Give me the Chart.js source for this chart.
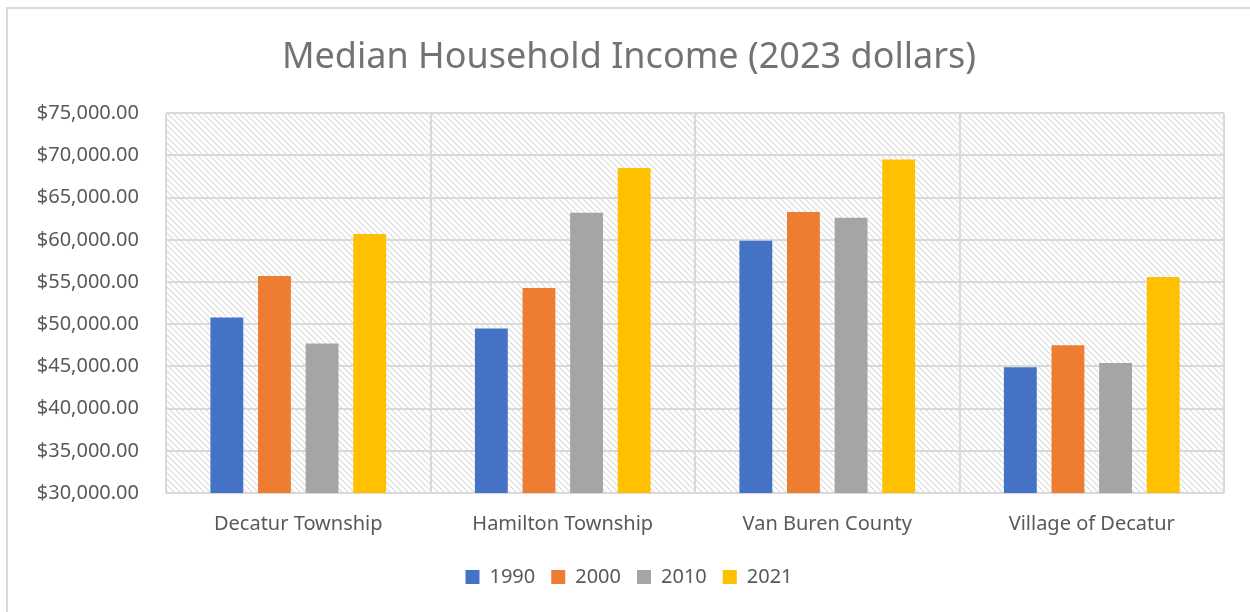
<!DOCTYPE html>
<html>
<head>
<meta charset="utf-8">
<script src="https://cdn.jsdelivr.net/npm/chart.js@4"></script>
<style>
    html, body { margin: 0; padding: 0; background: #fff; overflow: hidden; }
    #wrap { position: relative; width: 1250px; height: 612px; }
    #frame { position: absolute; left: 6px; top: 7px; width: 1300px; height: 700px; border: 2px solid #d9d9d9; box-sizing: border-box; }
</style>
</head>
<body>
<div id="wrap">
    <div id="frame"></div>
    <canvas id="incomeChart" width="1250" height="612"></canvas>
</div>
<script>
// Median household income by place and year (2023 dollars)

const places = ['Decatur Township', 'Hamilton Township', 'Van Buren County', 'Village of Decatur'];
const years = ['1990', '2000', '2010', '2021'];

const income1990 = [50800, 49500, 59900, 44900];
const income2000 = [55700, 54300, 63300, 47500];
const income2010 = [47700, 63200, 62600, 45400];
const income2021 = [60700, 68500, 69500, 55600];

const seriesColors = ['#4472C4', '#ED7D31', '#A5A5A5', '#FFC000'];

const textColor = '#595959';
const fontFamily = '"Noto Sans", "DejaVu Sans", sans-serif';

// diagonal hatch used by the plot area background
function makeHatch() {
    const tile = document.createElement('canvas');
    tile.width = 6;
    tile.height = 6;
    const t = tile.getContext('2d');
    t.fillStyle = '#ffffff';
    t.fillRect(0, 0, 6, 6);
    t.strokeStyle = '#dcdcdc';
    t.lineWidth = 1.2;
    t.beginPath();
    t.moveTo(-1, -1); t.lineTo(7, 7);
    t.moveTo(-4, 2); t.lineTo(1, 7);
    t.moveTo(5, -1); t.lineTo(7, 1);
    t.stroke();
    return t.createPattern(tile, 'repeat');
}

const hatchBackground = {
    id: 'hatchBackground',
    beforeDraw(chart) {
        const { ctx, chartArea } = chart;
        ctx.save();
        ctx.fillStyle = makeHatch();
        ctx.fillRect(chartArea.left, chartArea.top, chartArea.right - chartArea.left, chartArea.bottom - chartArea.top);
        ctx.restore();
    }
};

const allSeries = [income1990, income2000, income2010, income2021];

const ctx = document.getElementById('incomeChart').getContext('2d');

const incomeChart = new Chart(ctx, {
    type: 'bar',
    data: {
        labels: places,
        datasets: years.map((year, i) => ({
            label: year,
            data: allSeries[i],
            backgroundColor: seriesColors[i],
            borderWidth: 0,
            categoryPercentage: 0.72,
            barPercentage: 0.69
        }))
    },
    options: {
        responsive: false,
        animation: false,
        devicePixelRatio: 1,
        layout: {
            padding: { left: 34, right: 26, top: 0, bottom: 15 }
        },
        scales: {
            x: {
                grid: { color: '#d9d9d9', lineWidth: 2, drawTicks: false },
                border: { display: false },
                ticks: {
                    color: textColor,
                    font: { family: fontFamily, size: 20 },
                    padding: 19
                },
                afterFit(scale) { scale.height = 58; }
            },
            y: {
                min: 30000,
                max: 75000,
                grid: { color: '#d9d9d9', lineWidth: 2, drawTicks: false },
                border: { display: false },
                ticks: {
                    stepSize: 5000,
                    color: textColor,
                    font: { family: fontFamily, size: 20 },
                    padding: 27,
                    callback: v => '$' + v.toLocaleString('en-US', { minimumFractionDigits: 2, maximumFractionDigits: 2 })
                },
                afterFit(scale) { scale.width = 132; }
            }
        },
        plugins: {
            title: {
                display: true,
                text: 'Median Household Income (2023 dollars)',
                color: '#737373',
                font: { family: fontFamily, size: 36, weight: 'normal' },
                padding: { top: 36, bottom: 34 }
            },
            legend: {
                position: 'bottom',
                labels: {
                    color: textColor,
                    font: { family: fontFamily, size: 20 },
                    boxWidth: 14,
                    boxHeight: 14,
                    padding: 16
                }
            },
            tooltip: { enabled: false }
        }
    },
    plugins: [hatchBackground]
});
</script>
</body>
</html>
